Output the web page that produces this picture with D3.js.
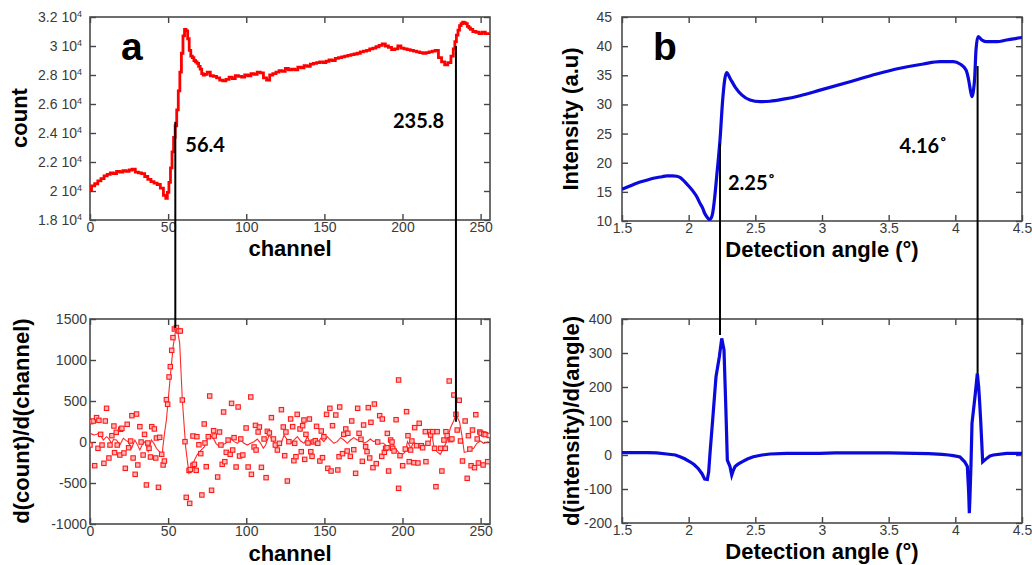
<!DOCTYPE html>
<html><head><meta charset="utf-8">
<script src="https://cdn.jsdelivr.net/npm/d3@7"></script>
<style>body{margin:0;background:#fff} text{font-family:Arial,"Liberation Sans",sans-serif}</style>
</head><body><svg id="c" width="1032" height="565"></svg>
<script>
// ---------- DATA ----------
// Panel a (top): count vs channel
const countChannel = [0,2,4,6,8,10,12,14,16,18,20,22,24,26,28,30,32,34,36,38,40,42,44,46,48,49,50,51,52,53,54,55,56,57,58,59,60,61,62,63,64,65,66,67,68,69,70,71,72,73,74,76,78,80,82,84,86,88,90,92,94,96,98,100,102,104,106,108,110,112,114,116,118,120,122,124,126,128,130,132,134,136,138,140,142,144,146,148,150,152,154,156,158,160,162,164,166,168,170,172,174,176,178,180,182,184,186,188,190,192,194,196,198,200,202,204,206,208,210,212,214,216,218,220,222,224,226,228,230,232,233,234,235,236,237,238,239,240,241,242,243,244,246,248,250,252,254,256];
const countValue = [20060,20350,20500,20700,20850,21050,21150,21250,21200,21350,21300,21400,21350,21450,21500,21300,21250,21200,21000,20800,20650,20550,20450,20200,19700,19500,19900,20600,21600,22700,23700,24500,25600,26900,28200,29500,30700,31150,31050,30500,29700,29300,29200,29000,28900,28800,28600,28400,28100,28000,28050,28200,27950,27900,27800,27650,27600,27700,27850,27750,27950,27900,27850,28000,27950,28100,28050,28200,28150,27800,27650,28000,28100,28200,28300,28250,28450,28350,28400,28350,28550,28500,28650,28600,28750,28800,28850,28900,28850,28950,29050,29000,29150,29200,29250,29300,29350,29400,29450,29500,29600,29650,29700,29800,29850,29950,30050,30150,30000,29900,29750,29800,30000,29850,29800,29750,29700,29650,29600,29550,29500,29550,29600,29650,29700,29200,28900,28700,28850,29300,29800,30300,30750,31100,31400,31550,31650,31600,31550,31350,31250,31150,31000,30950,30850,30950,30850,30850];

// Panel a (bottom): derivative points (scatter) and smoothed line
const derivPointChannel = [0.4,2.1,0.0,3,4.2,5.7,5.1,6.8,7.7,8.9,9.8,10.6,12.1,12.8,14,15.3,15.7,16.8,17.4,19.1,19.6,20.4,21.7,22.6,23.8,24.7,26,26.8,27.6,28.9,29.8,30.6,31.9,32.7,34,34.9,36.1,37,37.8,38.7,39.5,41.2,42.1,42.5,43.8,44.6,45.9,46.8,47.6,48.9,49.7,50.6,51.4,52.3,53.1,54,55.3,56.6,57.8,59.1,60.8,61.6,63.4,63.8,
64.2,65.9,66.8,68,65.9,68.4,69.7,70.9,71.6,73.1,73.6,74.4,75.7,76.6,77.8,79.1,79.5,81.7,82.9,83.8,84.6,85.5,86.3,87.2,88.4,89.7,90.6,91.3,92.2,93.5,94.8,95.7,96.5,97.8,99.9,101.2,102.9,103.3,105,105.9,106.3,107.6,108.4,109.7,111.4,112.7,113.5,114.8,116.1,117.4,118.6,119.9,121.2,122.5,123.7,124.6,125.4,126.3,127.3,128.4,
129.7,130.5,131,131.8,132.6,134.4,135.2,136.1,136.9,137.4,138.2,139.5,140.4,141.3,142.1,142.9,144.2,145,145.8,147.1,148,148.8,149.7,151.4,152.2,153.5,154.3,155.2,157.3,158.6,159.4,159.8,161.6,162.4,163.7,164.6,165,166.6,167.5,168.8,170,171.3,172.2,173.4,174.3,175.1,176.4,177.3,178.1,179,179.8,181.1,182,183.2,184.1,185.4,186.7,187.1,188.4,189.2,
190.3,191.1,190.1,192.4,193.3,193.7,194.6,195.9,197.5,197.5,198.4,200.1,201.8,202.6,203.5,204.3,205.2,206,207.3,207.8,209,209.9,210.7,212,212.9,214.6,215,216.3,217.5,218,219.3,220.5,221.4,222.2,224.4,225.2,226.5,227.4,227.8,228.6,229.9,230.7,231.6,232.9,234.2,235,236.3,237.1,238.4,240.1,241.4,242.2,243.1,243.9,244.8,246.1,246.9,247.8,248.6,249.5,250.3,251.6,252,253,254.5,255.5];
const derivPointValue = [248,256,-37,-289,297,264,-77,93,-37,-260,256,411,-195,-37,77,195,-130,118,-37,-159,155,167,-134,-321,216,-70,12,321,-195,-394,341,-280,187,0,-159,93,-524,-12,-77,-183,187,159,-195,49,-553,57,-150,-280,-232,516,460,793,919,1118,1273,1378,1395,1354,1354,512,4,-675,-346,-748,
-335,-285,-272,-346,73,65,-33,-142,-646,220,-12,-301,65,561,-589,138,73,-427,122,-37,-272,366,-240,-126,24,-150,471,-98,53,-305,427,-171,37,-159,171,-305,549,-394,-61,203,-98,122,183,-309,37,-435,130,110,297,37,-37,-98,-16,394,183,-167,122,-476,4,281,
187,-228,-16,-179,337,159,-118,199,268,-212,93,-12,280,-118,-175,0,16,191,-16,-232,134,-191,65,337,-321,411,-354,199,329,-341,-179,427,-142,93,159,-110,106,-175,256,-94,-382,411,106,33,-236,207,-57,-118,419,-195,240,-313,463,-264,0,321,-175,280,-126,-77,
105,-354,-70,24,0,-77,-110,272,756,-565,-167,-289,-86,370,77,-240,-98,12,-252,175,-45,-256,228,-45,-70,126,-240,-16,126,85,126,-77,-545,126,-77,-354,24,-77,126,77,744,28,37,573,337,146,509,12,-232,256,-443,77,-86,-289,146,-313,333,37,-256,122,106,-280,98,90,-240,80];
const derivLineChannel = [0,2,3,5,6.4,8.5,10.6,12,13.8,15,17,19.1,21.3,23,24.4,26.6,28.7,30,31.9,33.5,35.1,37.2,39.3,41,42.5,44.5,46.1,47.5,48.9,51,53.2,54.5,55.3,56.3,57.4,59.1,61.2,63.3,64.8,66.9,68.5,70.1,73.3,74.2,76.1,78.5,80.6,82.7,84.8,86.9,88.4,90.1,92.2,94.3,96.5,98.6,100.7,102.8,105,107.1,109.2,110.9,112.4,114.6,116.7,118.2,119.9,122,124.2,126.3,128.4,130.5,132.7,134.8,137,139.1,141.2,143.4,145.5,147.6,149.7,151.8,154,156.1,158.2,160.4,162.5,164.6,166.7,168.8,171,173.1,175.2,177.3,179.4,181.6,183.7,185.8,187.9,190.1,192.2,193.3,195.4,197.5,199.6,201.8,203.2,205.4,207.1,209.2,211.4,213.5,215.6,217.7,218.8,219.9,222,224.2,226.3,228.4,230.6,232.7,234.2,236.5,238,239.5,241.2,243.4,245.5,247.6,249.8,251.9,255];
const derivLineValue = [106,90,85,100,98,24,65,40,-16,30,24,-37,45,20,4,-77,24,-20,-98,-30,4,-118,24,-20,-77,-120,-159,80,268,715,1163,1330,1366,1330,1203,512,-57,-382,-341,-220,-160,-118,-57,4,65,65,-16,-57,-37,-16,24,45,4,-16,24,-16,-37,-16,4,37,-16,-77,-37,85,24,-16,-57,-37,85,24,-16,24,65,12,-16,65,-16,24,-16,45,4,65,24,-16,4,53,24,-16,24,53,24,37,-16,4,37,4,24,-16,-16,-57,-40,-16,-77,-126,-159,-118,4,-77,4,-37,-16,-57,-16,4,106,-37,-118,-150,-77,12,167,256,330,248,85,-126,-118,-98,-77,-16,12,-16,4];

// Panel b (top): intensity vs detection angle
const angleTop = [1.5,1.55,1.61,1.67,1.735,1.8,1.835,1.88,1.91,1.94,1.97,2.0,2.035,2.06,2.085,2.105,2.12,2.14,2.155,2.168,2.18,2.195,2.21,2.235,2.255,2.27,2.285,2.31,2.35,2.40,2.46,2.535,2.61,2.71,2.835,2.985,3.21,3.41,3.585,3.76,3.885,3.985,4.035,4.08,4.10,4.115,4.125,4.135,4.145,4.155,4.17,4.2,4.235,4.31,4.385,4.45,4.5];
const intensity = [15.45,15.9,16.47,16.9,17.33,17.6,17.73,17.75,17.67,17.4,16.75,16.0,15.04,14.2,13.04,12.2,11.33,10.6,10.25,10.5,11.33,14.0,17.6,23.9,30.76,34.2,35.45,34.5,32.94,31.6,30.76,30.47,30.55,30.9,31.5,32.45,33.9,35.22,36.2,36.94,37.33,37.33,36.94,35.9,34.2,32.2,31.33,32.2,34.5,39.34,41.62,41.05,40.76,40.76,41.05,41.3,41.5];

// Panel b (bottom): derivative vs detection angle
const angleBottom = [1.5,1.6,1.69,1.76,1.835,1.9,1.935,1.97,2.01,2.04,2.07,2.1,2.12,2.14,2.15,2.16,2.18,2.205,2.23,2.248,2.265,2.28,2.29,2.31,2.323,2.335,2.348,2.37,2.4,2.44,2.485,2.55,2.61,2.735,2.985,3.1,3.3,3.5,3.7,3.8,3.9,3.95,3.985,4.035,4.07,4.09,4.1,4.105,4.11,4.118,4.125,4.15,4.165,4.175,4.18,4.19,4.205,4.22,4.235,4.26,4.285,4.385,4.5];
const dIntensity = [7,7,7,6,3,0,-5,-11,-20,-28,-39,-55,-71,-72,-50,5,103,230,289,343,309,123,-15,-34,-59,-45,-34,-27,-20,-12,-5,0,3,5,5,6,6,6,5,4,2,0,-2,-6,-20,-34,-110,-171,-122,-20,93,181,240,200,171,103,-20,-15,-10,-3,0,5,5];

// Tick values
const channelTicks = [0,50,100,150,200,250];
const countTicks = [18000,20000,22000,24000,26000,28000,30000,32000];
const derivTicks = [-1000,-500,0,500,1000,1500];
const angleTicks = [1.5,2,2.5,3,3.5,4,4.5];
const intensityTicks = [10,15,20,25,30,35,40,45];
const dIntensityTicks = [-200,-100,0,100,200,300,400];

// Markers (vertical connector lines) and their labels
const markerChannel = [54.6, 234.2];
const markerCountTop = [24770, 30000];
const markerDerivBottom = [1387, 248];
const markerLabelA = ["56.4", "235.8"];
const markerAngle = [2.235, 4.167];
const markerIntensityTop = [23.3, 36.6];
const markerDIntBottom = [353, 240];
const markerLabelB = ["2.25˚", "4.16˚"];

// ---------- DRAW ----------
const svg = d3.select("#c");
svg.append("rect").attr("width",1032).attr("height",565).attr("fill","#fff");

const TICKCOL = "#3a3a3a";
function drawFrame(x, y, xt, yt, yFmt, opts) {
  const g = svg.append("g");
  const [x0,x1] = x.range(); const [y0,y1] = y.range(); // y0 bottom
  const ax = (axis, tx, ty) => {
    const a = g.append("g").attr("transform",`translate(${tx},${ty})`).call(axis);
    a.select(".domain").remove();
    a.selectAll(".tick line").attr("stroke","#444").attr("stroke-width",1.4);
    a.selectAll("text").attr("fill",TICKCOL).style("font-size","14px").style("font-family","Arial, 'Liberation Sans', sans-serif");
    return a;
  };
  ax(d3.axisBottom(x).tickValues(xt).tickSizeInner(-6).tickSizeOuter(0).tickPadding(2).tickFormat(d3.format("")), 0, y0);
  ax(d3.axisTop(x).tickValues(xt).tickSizeInner(-6).tickSizeOuter(0).tickFormat(""), 0, y1);
  const left = ax(d3.axisLeft(y).tickValues(yt).tickSizeInner(-6).tickSizeOuter(0).tickPadding(opts.ypad).tickFormat(yFmt), x0, 0);
  ax(d3.axisRight(y).tickValues(yt).tickSizeInner(-6).tickSizeOuter(0).tickFormat(""), x1, 0);
  g.append("rect").attr("x",x0).attr("y",y1).attr("width",x1-x0).attr("height",y0-y1)
    .attr("fill","none").attr("stroke","#4a4a4a").attr("stroke-width",1.6);
  return left;
}

// Scales
const xA = d3.scaleLinear().domain([0,256]).range([90,490]);
const yAtop = d3.scaleLinear().domain([18000,32000]).range([220,17]);
const yAbot = d3.scaleLinear().domain([-1000,1500]).range([524,319]);
const xB = d3.scaleLinear().domain([1.5,4.5]).range([622,1022]);
const yBtop = d3.scaleLinear().domain([10,45]).range([221,17]);
const yBbot = d3.scaleLinear().domain([-200,400]).range([523,319]);

// Panel a top
const leftAtop = drawFrame(xA, yAtop, channelTicks, countTicks, d => "", {ypad:6});
leftAtop.selectAll(".tick text").each(function(d){
  const t = d3.select(this);
  t.text(null);
  t.append("tspan").text(d3.format("")(d/1e4) + " 10");
  t.append("tspan").text("4").attr("dy","-0.55em").style("font-size","9px");
}).attr("x",-8);
drawFrame(xA, yAbot, channelTicks, derivTicks, d3.format(""), {ypad:3});
drawFrame(xB, yBtop, angleTicks, intensityTicks, d3.format(""), {ypad:10});
drawFrame(xB, yBbot, angleTicks, dIntensityTicks, d3.format(""), {ypad:10});
// use hyphen for negatives
svg.selectAll(".tick text").each(function(){ const s=d3.select(this); if(!s.select("tspan").size()) s.text(s.text().replace("−","-")); });

// clip paths
function clip(id, x, y){
  svg.append("clipPath").attr("id",id).append("rect")
    .attr("x",x.range()[0]).attr("y",y.range()[1]).attr("width",x.range()[1]-x.range()[0]).attr("height",y.range()[0]-y.range()[1]);
}
clip("cA1",xA,yAtop); clip("cA2",xA,yAbot); clip("cB1",xB,yBtop); clip("cB2",xB,yBbot);

// Series
svg.append("path").attr("clip-path","url(#cA1)")
  .attr("d", d3.line().x((d,i)=>xA(countChannel[i])).y((d,i)=>yAtop(countValue[i])).curve(d3.curveStep)(countValue))
  .attr("fill","none").attr("stroke","#ff0000").attr("stroke-width",2.8).attr("stroke-linejoin","miter");

svg.append("path").attr("clip-path","url(#cA2)")
  .attr("d", d3.line().x((d,i)=>xA(derivLineChannel[i])).y((d,i)=>yAbot(derivLineValue[i]))(derivLineValue))
  .attr("fill","none").attr("stroke","#ff2a2a").attr("stroke-width",1.1);
svg.append("g").attr("clip-path","url(#cA2)").selectAll("rect").data(derivPointValue).join("rect")
  .attr("x",(d,i)=>xA(derivPointChannel[i])-2.2).attr("y",d=>yAbot(d)-2.2)
  .attr("width",4.4).attr("height",4.4)
  .attr("fill","#ffb8b8").attr("stroke","#ff1a1a").attr("stroke-width",1.1);

svg.append("path").attr("clip-path","url(#cB1)")
  .attr("d", d3.line().x((d,i)=>xB(angleTop[i])).y((d,i)=>yBtop(intensity[i])).curve(d3.curveMonotoneX)(intensity))
  .attr("fill","none").attr("stroke","#0a0adc").attr("stroke-width",3.2);
svg.append("path").attr("clip-path","url(#cB2)")
  .attr("d", d3.line().x((d,i)=>xB(angleBottom[i])).y((d,i)=>yBbot(dIntensity[i]))(dIntensity))
  .attr("fill","none").attr("stroke","#0a0adc").attr("stroke-width",3.2);

// Connector lines
markerChannel.forEach((c,i)=>{
  svg.append("line").attr("x1",xA(c)).attr("x2",xA(c))
    .attr("y1",yAtop(markerCountTop[i])).attr("y2",yAbot(markerDerivBottom[i]))
    .attr("stroke","#000").attr("stroke-width",2);
});
markerAngle.forEach((a,i)=>{
  svg.append("line").attr("x1",xB(a)).attr("x2",xB(a))
    .attr("y1",yBtop(markerIntensityTop[i])).attr("y2",yBbot(markerDIntBottom[i]))
    .attr("stroke","#000").attr("stroke-width",2);
});

// Annotation labels
const annFont = "Lato, 'Open Sans', sans-serif";
const ann = (txt, x, y) => svg.append("text").attr("x",x).attr("y",y).text(txt)
  .style("font-family",annFont).style("font-weight","700").style("font-size","20px").attr("fill","#000");
ann(markerLabelA[0], xA(markerChannel[0])+10, 152);
ann(markerLabelA[1], xA(markerChannel[1])-63, 128);
ann(markerLabelB[0], xB(markerAngle[0])+8, 190);
ann(markerLabelB[1], xB(markerAngle[1])-78, 153);

// Panel letters
svg.append("text").attr("x",121).attr("y",60).text("a").style("font-weight","700").style("font-size","39px").attr("fill","#000");
svg.append("text").attr("x",653).attr("y",60).text("b").style("font-weight","700").style("font-size","39px").attr("fill","#000");

// Axis titles
const title = (txt, x, y, rot) => {
  const t = svg.append("text").text(txt).style("font-weight","700").style("font-size","22px").attr("fill","#000").attr("text-anchor","middle");
  if (rot) t.attr("transform",`translate(${x},${y}) rotate(-90)`); else t.attr("x",x).attr("y",y);
};
title("channel", 290, 256);
title("channel", 290, 561);
title("Detection angle (°)", 822, 257);
title("Detection angle (°)", 822, 559);
title("count", 27, 118, true);
title("d(count)/d(channel)", 29, 421, true);
title("Intensity (a.u)", 578, 119, true);
title("d(intensity)/d(angle)", 579, 421, true);
</script></body></html>
